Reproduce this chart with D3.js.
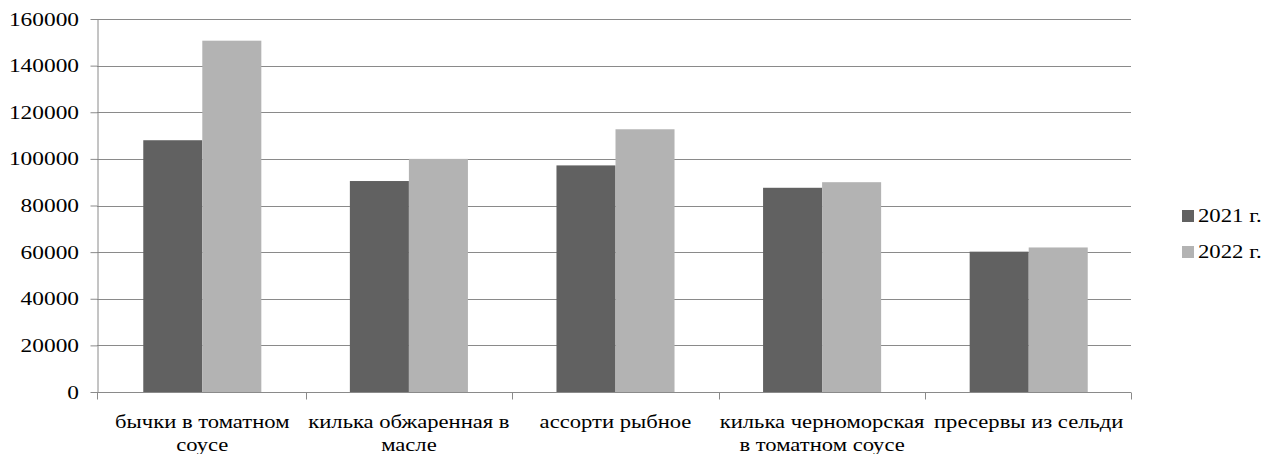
<!DOCTYPE html>
<html>
<head>
<meta charset="utf-8">
<script src="https://cdn.jsdelivr.net/npm/d3@7"></script>
</head>
<body style="margin:0">
<svg id="chart" width="1266" height="454" style="display:block;background:#fff"></svg>
<script>
// Product categories (line breaks mark where the axis label wraps)
const categories = [
  "бычки в томатном\nсоусе",
  "килька обжаренная в\nмасле",
  "ассорти рыбное",
  "килька черноморская\nв томатном соусе",
  "пресервы из сельди"
];
const seriesNames = ["2021 г.", "2022 г."];
const values2021 = [108000, 90500, 97200, 87600, 60200];
const values2022 = [150700, 100000, 112700, 90000, 62000];
const yTicks = [0, 20000, 40000, 60000, 80000, 100000, 120000, 140000, 160000];
const colors = ["#616161", "#b3b3b3"];

const FONT = '"Liberation Serif"';
const GRID = "#8a8a8a";

const plotLeft = 97, plotRight = 1131, plotTop = 19, plotBottom = 392;
const svg = d3.select("#chart");

const x = d3.scaleBand()
  .domain(categories)
  .range([plotLeft + 2, plotRight + 1]);

const y = d3.scaleLinear()
  .domain([0, 160000])
  .range([plotBottom, plotTop]);

// bar width follows a 150% gap between groups
const barW = x.bandwidth() / 3.5;
const x1 = d3.scaleBand()
  .domain(seriesNames)
  .range([0, barW * 2]);

// horizontal gridlines
svg.append("g")
  .selectAll("line")
  .data(yTicks.filter(d => d > 0))
  .join("line")
  .attr("x1", plotLeft)
  .attr("x2", plotRight)
  .attr("y1", d => Math.round(y(d)) + 0.5)
  .attr("y2", d => Math.round(y(d)) + 0.5)
  .attr("stroke", GRID)
  .attr("stroke-width", 1);

// bars
const rows = categories.map((c, i) => ({ c, vals: [values2021[i], values2022[i]] }));
const groups = svg.append("g")
  .selectAll("g")
  .data(rows)
  .join("g")
  .attr("transform", d => `translate(${x(d.c) + (x.bandwidth() - barW * 2) / 2},0)`);

groups.selectAll("rect")
  .data(d => d.vals.map((v, k) => ({ v, s: seriesNames[k], k })))
  .join("rect")
  .attr("x", d => x1(d.s))
  .attr("width", x1.bandwidth())
  .attr("y", d => y(d.v))
  .attr("height", d => y(0) - y(d.v))
  .attr("fill", d => colors[d.k]);

// y axis: line and tick marks from d3.axisLeft, labels drawn alongside
const yAxis = svg.append("g")
  .attr("transform", `translate(${plotLeft + 0.5},0)`)
  .call(d3.axisLeft(y).tickValues(yTicks).tickFormat("").tickSize(7).tickSizeOuter(0));
yAxis.select(".domain").attr("stroke", GRID);
yAxis.selectAll(".tick line").attr("stroke", GRID);

svg.append("g")
  .selectAll("text")
  .data(yTicks)
  .join("text")
  .attr("text-anchor", "end")
  .attr("transform", d => `translate(${plotLeft - 18},${y(d) + 6.5}) scale(1.23,1)`)
  .style("font-family", FONT)
  .style("font-size", "19px")
  .attr("fill", "#000")
  .text(d3.format("d"));

// x axis with ticks at category boundaries
const xAxisG = svg.append("g")
  .attr("transform", `translate(0,${Math.round(y(0)) + 0.5})`);
xAxisG.append("line")
  .attr("x1", plotLeft).attr("x2", plotRight)
  .attr("stroke", GRID);
const bounds = [plotLeft].concat(categories.slice(1).map(c => x(c)), [plotRight]);
xAxisG.selectAll("line.tk")
  .data(bounds)
  .join("line")
  .attr("class", "tk")
  .attr("x1", d => Math.round(d) + 0.5)
  .attr("x2", d => Math.round(d) + 0.5)
  .attr("y1", 0).attr("y2", 7)
  .attr("stroke", GRID);

// category labels, wrapped onto two lines where needed
categories.forEach(c => {
  const cx = x(c) + x.bandwidth() / 2;
  c.split("\n").forEach((line, i) => {
    xAxisG.append("text")
      .attr("text-anchor", "middle")
      .attr("transform", `translate(${cx},${35 + i * 23.5}) scale(1.16,1)`)
      .style("font-family", FONT)
      .style("font-size", "19.5px")
      .attr("fill", "#000")
      .text(line);
  });
});

// legend
const legend = svg.append("g")
  .attr("transform", "translate(1182,210)");
const li = legend.selectAll("g")
  .data(seriesNames)
  .join("g")
  .attr("transform", (d, i) => `translate(0,${i * 36})`);
li.append("rect")
  .attr("width", 12).attr("height", 12)
  .attr("fill", (d, i) => colors[i]);
li.append("text")
  .attr("transform", "translate(16,12.3) scale(1.25,1)")
  .style("font-family", FONT)
  .style("font-size", "18.2px")
  .attr("fill", "#000")
  .text(d => d);
</script>
</body>
</html>
